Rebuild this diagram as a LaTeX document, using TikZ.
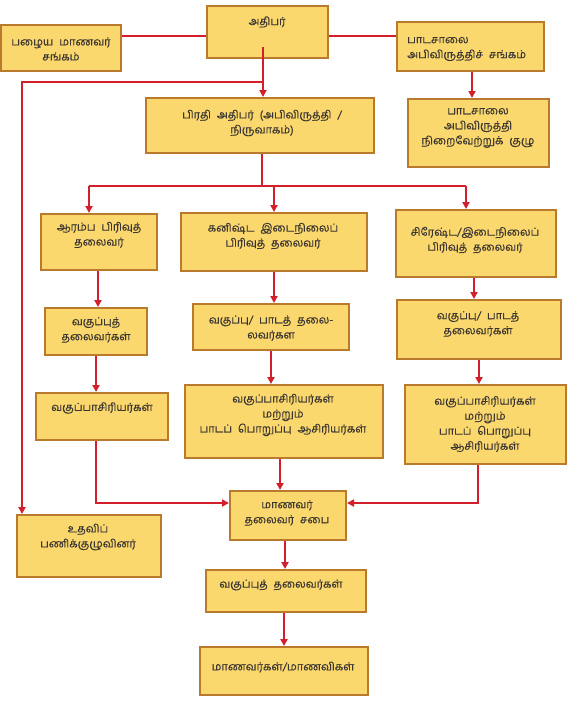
\documentclass[tikz,border=0pt]{standalone}
\usepackage{fontspec}
\newfontfamily\tamil[Script=Tamil, WordSpace=2.2, FakeBold=0.3]{Hind Madurai}
\usetikzlibrary{arrows.meta}
\definecolor{boxfill}{HTML}{FBD86E}
\definecolor{boxline}{HTML}{B97A2E}
\definecolor{conred}{HTML}{D21F2B}
\definecolor{txtcol}{HTML}{3A3530}
\newcommand\bx[5]{\node[bxs, minimum width={#4-#2}, minimum height={#5-#3}] (#1) at ({(#2+#4)/2},{(#3+#5)/2}) {};}
\begin{document}
\begin{tikzpicture}[x=1pt,y=-1pt,
 bxs/.style={draw=boxline, fill=boxfill, line width=2pt, inner sep=0pt, rectangle},
 txt/.style={font=\tamil\fontsize{11}{15}\selectfont, text=txtcol, align=center, inner sep=0pt},
 conn/.style={draw=conred, line width=2pt},
 arr/.style={conn, -{Triangle[length=7pt,width=7pt]}}]
\useasboundingbox (0,0) rectangle (576,707);
\fill[white] (0,0) rectangle (576,707);
% boxes
\bx{adhipar}{207}{6}{328}{58}
\bx{pazhaiya}{1}{25}{121}{71}
\bx{pasangam}{397}{22}{544}{71}
\bx{pirathi}{146}{98}{374}{153}
\bx{kuzhu}{408}{99}{549}{167}
\bx{aaramba}{41}{214}{157}{270}
\bx{kanishta}{181}{213}{367}{271}
\bx{sirestha}{396}{210}{556}{277}
\bx{vtla}{45}{308}{147}{355}
\bx{vptb}{193}{304}{349}{350}
\bx{vptc}{397}{300}{561}{359}
\bx{vasa}{36}{393}{168}{440}
\bx{vasb}{185}{385}{383}{458}
\bx{vasc}{405}{385}{566}{464}
\bx{sabai}{230}{491}{346}{540}
\bx{udavi}{17}{515}{161}{577}
\bx{vtld}{206}{570}{366}{612}
\bx{maanavar}{200}{647}{368}{695}
% texts
\node[txt] (t1) at (267,22) {அதிபர்};
\node[txt] (t2) at (61,49) {பழைய மாணவர்\\சங்கம்};
\node[txt, align=left, anchor=west] (t3) at (407,49) {பாடசாலை\\அபிவிருத்திச் சங்கம்};
\node[txt] (t4) at (262,123) {பிரதி அதிபர் (அபிவிருத்தி /\\நிருவாகம்)};
\node[txt] (t5) at (478,128) {பாடசாலை\\அபிவிருத்தி\\நிறைவேற்றுக் குழு};
\node[txt] (t6) at (99,235) {ஆரம்ப பிரிவுத்\\தலைவர்};
\node[txt] (t7) at (273,236) {கனிஷ்ட இடைநிலைப்\\பிரிவுத் தலைவர்};
\node[txt] (t8) at (475,240) {சிரேஷ்ட/இடைநிலைப்\\பிரிவுத் தலைவர்};
\node[txt] (t9) at (96,330) {வகுப்புத்\\தலைவர்கள்};
\node[txt] (t10) at (271,328) {வகுப்பு/ பாடத் தலை-\\லவர்கள};
\node[txt] (t11) at (478,324) {வகுப்பு/ பாடத்\\தலைவர்கள்};
\node[txt] (t12) at (102,408) {வகுப்பாசிரியர்கள்};
\node[txt] (t13) at (283,415) {வகுப்பாசிரியர்கள்\\மற்றும்\\பாடப் பொறுப்பு ஆசிரியர்கள்};
\node[txt] (t14) at (485,424) {வகுப்பாசிரியர்கள்\\மற்றும்\\பாடப் பொறுப்பு\\ஆசிரியர்கள்};
\node[txt] (t15) at (287,513) {மாணவர்\\தலைவர் சபை};
\node[txt] (t16) at (88,537) {உதவிப்\\பணிக்குழுவினர்};
\node[txt] (t17) at (281,585) {வகுப்புத் தலைவர்கள்};
\node[txt] (t18) at (283,667) {மாணவர்கள்/மாணவிகள்};
% connectors
\coordinate (a1) at (263,47);
\coordinate (j1) at (263,82);
\coordinate (lx) at (22,82);
\draw[conn] ([yshift=-4pt]adhipar.west) -- ([yshift=-4pt]adhipar.west -| pazhaiya.east);
\draw[conn] ([yshift=-4pt]adhipar.east) -- ([yshift=-4pt]adhipar.east -| pasangam.west);
\draw[arr] (a1) -- (a1 |- pirathi.north);
\draw[arr] (j1) -- (lx) -- (lx |- udavi.north);
\draw[arr] ([xshift=1.5pt]pasangam.south) -- ([xshift=1.5pt]pasangam.south |- kuzhu.north);
\coordinate (j2) at (262,186);
\coordinate (hl) at (89,186);
\coordinate (hr) at (466,186);
\draw[conn] (pirathi.south -| j2) -- (j2);
\draw[conn] (hl) -- (hr);
\draw[arr] (hl) -- (hl |- aaramba.north);
\draw[arr] (kanishta.north |- j2) -- (kanishta.north);
\draw[arr] (hr) -- (hr |- sirestha.north);
\draw[arr] ([xshift=-1pt]aaramba.south) -- ([xshift=-1pt]aaramba.south |- vtla.north);
\draw[arr] (vtla.south) -- (vtla.south |- vasa.north);
\draw[arr] (kanishta.south) -- (kanishta.south |- vptb.north);
\draw[arr] (vptb.south) -- (vptb.south |- vasb.north);
\draw[arr] ([xshift=-2pt]sirestha.south) -- ([xshift=-2pt]sirestha.south |- vptc.north);
\draw[arr] (vptc.south) -- (vptc.south |- vasc.north);
\coordinate (bl) at (96,503);
\coordinate (br) at (478,503);
\draw[arr] (vasa.south -| bl) -- (bl) -- (bl -| sabai.west);
\draw[arr] (vasc.south -| br) -- (br) -- (br -| sabai.east);
\draw[arr] ([xshift=-4pt]vasb.south) -- ([xshift=-4pt]vasb.south |- sabai.north);
\draw[arr] ([xshift=-3pt]sabai.south) -- ([xshift=-3pt]sabai.south |- vtld.north);
\draw[arr] ([xshift=-2pt]vtld.south) -- ([xshift=-2pt]vtld.south |- maanavar.north);
\end{tikzpicture}
\end{document}
